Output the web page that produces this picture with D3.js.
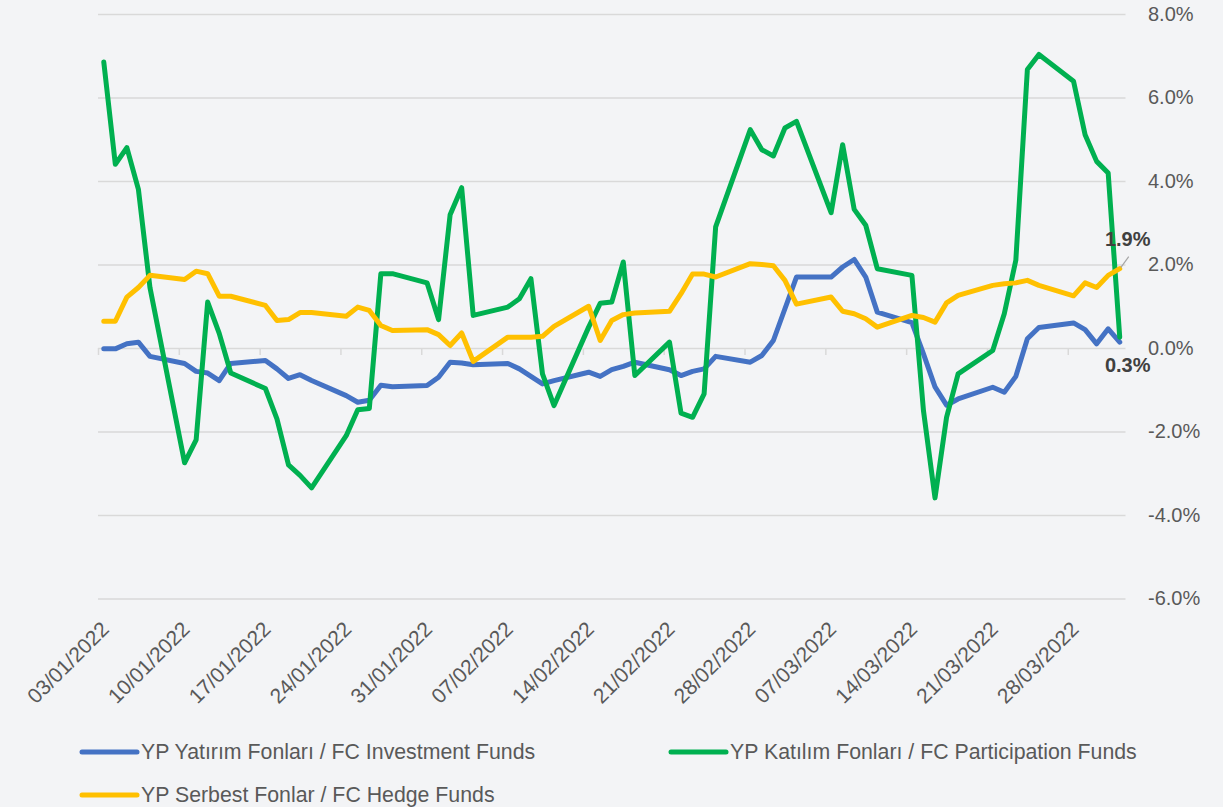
<!DOCTYPE html>
<html>
<head>
<meta charset="utf-8">
<script src="https://cdn.jsdelivr.net/npm/d3@7"></script>
<style>
  body { margin: 0; background: #f3f4f6; }
  svg { display: block; font-family: "Liberation Sans", Arial, sans-serif; }
</style>
</head>
<body>
<svg id="chart" width="1223" height="807"></svg>
<script>
// business days, 03/01/2022 - 01/04/2022
const dates = [
  "2022-01-03","2022-01-04","2022-01-05","2022-01-06","2022-01-07",
  "2022-01-10","2022-01-11","2022-01-12","2022-01-13","2022-01-14",
  "2022-01-17","2022-01-18","2022-01-19","2022-01-20","2022-01-21",
  "2022-01-24","2022-01-25","2022-01-26","2022-01-27","2022-01-28",
  "2022-01-31","2022-02-01","2022-02-02","2022-02-03","2022-02-04",
  "2022-02-07","2022-02-08","2022-02-09","2022-02-10","2022-02-11",
  "2022-02-14","2022-02-15","2022-02-16","2022-02-17","2022-02-18",
  "2022-02-21","2022-02-22","2022-02-23","2022-02-24","2022-02-25",
  "2022-02-28","2022-03-01","2022-03-02","2022-03-03","2022-03-04",
  "2022-03-07","2022-03-08","2022-03-09","2022-03-10","2022-03-11",
  "2022-03-14","2022-03-15","2022-03-16","2022-03-17","2022-03-18",
  "2022-03-21","2022-03-22","2022-03-23","2022-03-24","2022-03-25",
  "2022-03-28","2022-03-29","2022-03-30","2022-03-31","2022-04-01"
];

// YP Yatırım Fonları / FC Investment Funds (%)
const investment = [
  -0.02, -0.02, 0.10, 0.14, -0.20,
  -0.37, -0.56, -0.60, -0.78, -0.37,
  -0.30, -0.50, -0.73, -0.64, -0.78,
  -1.14, -1.30, -1.25, -0.89, -0.93,
  -0.90, -0.70, -0.34, -0.36, -0.40,
  -0.37, -0.50, -0.68, -0.86, -0.78,
  -0.58, -0.68, -0.52, -0.44, -0.34,
  -0.52, -0.66, -0.56, -0.50, -0.20,
  -0.34, -0.18, 0.18, 0.94, 1.70,
  1.70, 1.94, 2.12, 1.70, 0.86,
  0.61, -0.14, -0.93, -1.37, -1.22,
  -0.94, -1.06, -0.68, 0.22, 0.49,
  0.60, 0.44, 0.10, 0.46, 0.14
];

// YP Katılım Fonları / FC Participation Funds (%)
const participation = [
  6.85, 4.40, 4.80, 3.80, 1.45,
  -2.75, -2.20, 1.10, 0.35, -0.60,
  -0.97, -1.70, -2.80, -3.05, -3.35,
  -2.10, -1.48, -1.45, 1.78, 1.78,
  1.56, 0.68, 3.19, 3.84, 0.78,
  0.98, 1.18, 1.66, -0.62, -1.38,
  0.50, 1.07, 1.10, 2.06, -0.66,
  0.14, -1.56, -1.66, -1.10, 2.90,
  5.23, 4.75, 4.60, 5.27, 5.43,
  3.24, 4.87, 3.32, 2.94, 1.90,
  1.74, -1.50, -3.59, -1.66, -0.62,
  -0.06, 0.82, 2.10, 6.67, 7.03,
  6.39, 5.11, 4.47, 4.19, 0.26
];

// YP Serbest Fonlar / FC Hedge Funds (%)
const hedge = [
  0.64, 0.64, 1.22, 1.45, 1.74,
  1.64, 1.84, 1.78, 1.24, 1.24,
  1.02, 0.66, 0.68, 0.85, 0.85,
  0.76, 0.98, 0.90, 0.54, 0.42,
  0.44, 0.32, 0.06, 0.36, -0.32,
  0.26, 0.26, 0.26, 0.28, 0.52,
  1.00, 0.18, 0.66, 0.80, 0.84,
  0.88, 1.30, 1.77, 1.77, 1.70,
  2.02, 2.00, 1.97, 1.62, 1.05,
  1.22, 0.88, 0.82, 0.70, 0.50,
  0.78, 0.73, 0.62, 1.08, 1.26,
  1.50, 1.54, 1.56, 1.62, 1.50,
  1.25, 1.56, 1.45, 1.74, 1.90
];

const seriesNames = [
  "YP Yatırım Fonları / FC Investment Funds",
  "YP Katılım Fonları / FC Participation Funds",
  "YP Serbest Fonlar / FC Hedge Funds"
];
const seriesColors = ["#4472C4", "#00B050", "#FFC000"];
const yTicks = [-6, -4, -2, 0, 2, 4, 6, 8];

const parseDate = d3.utcParse("%Y-%m-%d");
const days = dates.map(parseDate);
const series = [investment, participation, hedge].map((vals, i) => ({
  name: seriesNames[i],
  color: seriesColors[i],
  values: vals.map((v, j) => ({ date: days[j], value: v }))
}));

const svg = d3.select("#chart");
const plotLeft = 98, plotRight = 1125.5, plotTop = 14, plotBottom = 598.5;

const x = d3.scaleUtc()
  .domain([d3.utcHour.offset(days[0], -12), d3.utcHour.offset(days[days.length - 1], 12)])
  .range([plotLeft, plotRight]);

const y = d3.scaleLinear()
  .domain([-6, 8])
  .range([plotBottom, plotTop]);

const mondays = d3.utcMonday.range(days[0], d3.utcDay.offset(days[days.length - 1], 1));

// gridlines
svg.append("g")
  .attr("transform", `translate(${plotLeft},0)`)
  .call(d3.axisLeft(y).tickValues(yTicks).tickSize(-(plotRight - plotLeft)).tickFormat(""))
  .call(g => g.select(".domain").remove())
  .call(g => g.selectAll("line").attr("stroke", "#d9d9d9").attr("stroke-width", 1.5));

// week tick marks on the zero line
svg.append("g")
  .attr("transform", `translate(0,${y(0)})`)
  .call(d3.axisBottom(x).tickValues(mondays.map(d => d3.utcHour.offset(d, -12))).tickSize(7).tickFormat(""))
  .call(g => g.select(".domain").remove())
  .call(g => g.selectAll("line").attr("stroke", "#d9d9d9").attr("stroke-width", 1.5));

// y axis labels on the right
svg.append("g")
  .attr("transform", "translate(1148,0)")
  .call(d3.axisRight(y).tickValues(yTicks).tickSize(0).tickPadding(0)
    .tickFormat(d => d.toFixed(1) + "%"))
  .call(g => g.select(".domain").remove())
  .call(g => g.selectAll("text")
    .attr("fill", "#595959")
    .style("font-size", "20px")
    .style("font-family", "'Liberation Sans', Arial, sans-serif"));

// x axis labels, rotated
svg.append("g")
  .attr("transform", `translate(0,${plotBottom})`)
  .call(d3.axisBottom(x).tickValues(mondays).tickSize(0).tickFormat(d3.utcFormat("%d/%m/%Y")))
  .call(g => g.select(".domain").remove())
  .call(g => g.selectAll("text")
    .attr("fill", "#595959")
    .attr("text-anchor", "end")
    .attr("x", 6).attr("y", 32).attr("dy", 0)
    .attr("transform", "rotate(-45 6 32)")
    .style("font-size", "21px")
    .style("font-family", "'Liberation Sans', Arial, sans-serif"));

// lines
const line = d3.line()
  .x(d => x(d.date))
  .y(d => y(d.value));

svg.append("g")
  .selectAll("path")
  .data(series)
  .join("path")
  .attr("d", d => line(d.values))
  .attr("fill", "none")
  .attr("stroke", d => d.color)
  .attr("stroke-width", 5)
  .attr("stroke-linejoin", "round")
  .attr("stroke-linecap", "round");

// end labels
const lastH = series[2].values[series[2].values.length - 1];
const lastP = series[1].values[series[1].values.length - 1];

svg.append("line")
  .attr("x1", x(lastH.date) + 1).attr("y1", y(lastH.value) - 1)
  .attr("x2", x(lastH.date) + 9).attr("y2", y(lastH.value) - 12)
  .attr("stroke", "#a6a6a6").attr("stroke-width", 1.2);

svg.append("text")
  .attr("x", x(lastH.date) + 8).attr("y", y(lastH.value) - 23)
  .attr("text-anchor", "middle")
  .attr("fill", "#404040")
  .style("font-size", "20px").style("font-weight", "bold")
  .text(lastH.value.toFixed(1) + "%");

svg.append("text")
  .attr("x", x(lastP.date) + 8).attr("y", y(lastP.value) + 35)
  .attr("text-anchor", "middle")
  .attr("fill", "#404040")
  .style("font-size", "20px").style("font-weight", "bold")
  .text(lastP.value.toFixed(1) + "%");

// legend
const legendPos = [[82, 752], [671, 752], [82, 795]];
const legend = svg.append("g")
  .selectAll("g")
  .data(series)
  .join("g")
  .attr("transform", (d, i) => `translate(${legendPos[i][0]},${legendPos[i][1]})`);

legend.append("line")
  .attr("x1", 0).attr("x2", 55)
  .attr("stroke", d => d.color)
  .attr("stroke-width", 5)
  .attr("stroke-linecap", "round");

legend.append("text")
  .attr("x", 59).attr("y", 7)
  .attr("fill", "#595959")
  .style("font-size", "21.3px")
  .text(d => d.name);
</script>
</body>
</html>
